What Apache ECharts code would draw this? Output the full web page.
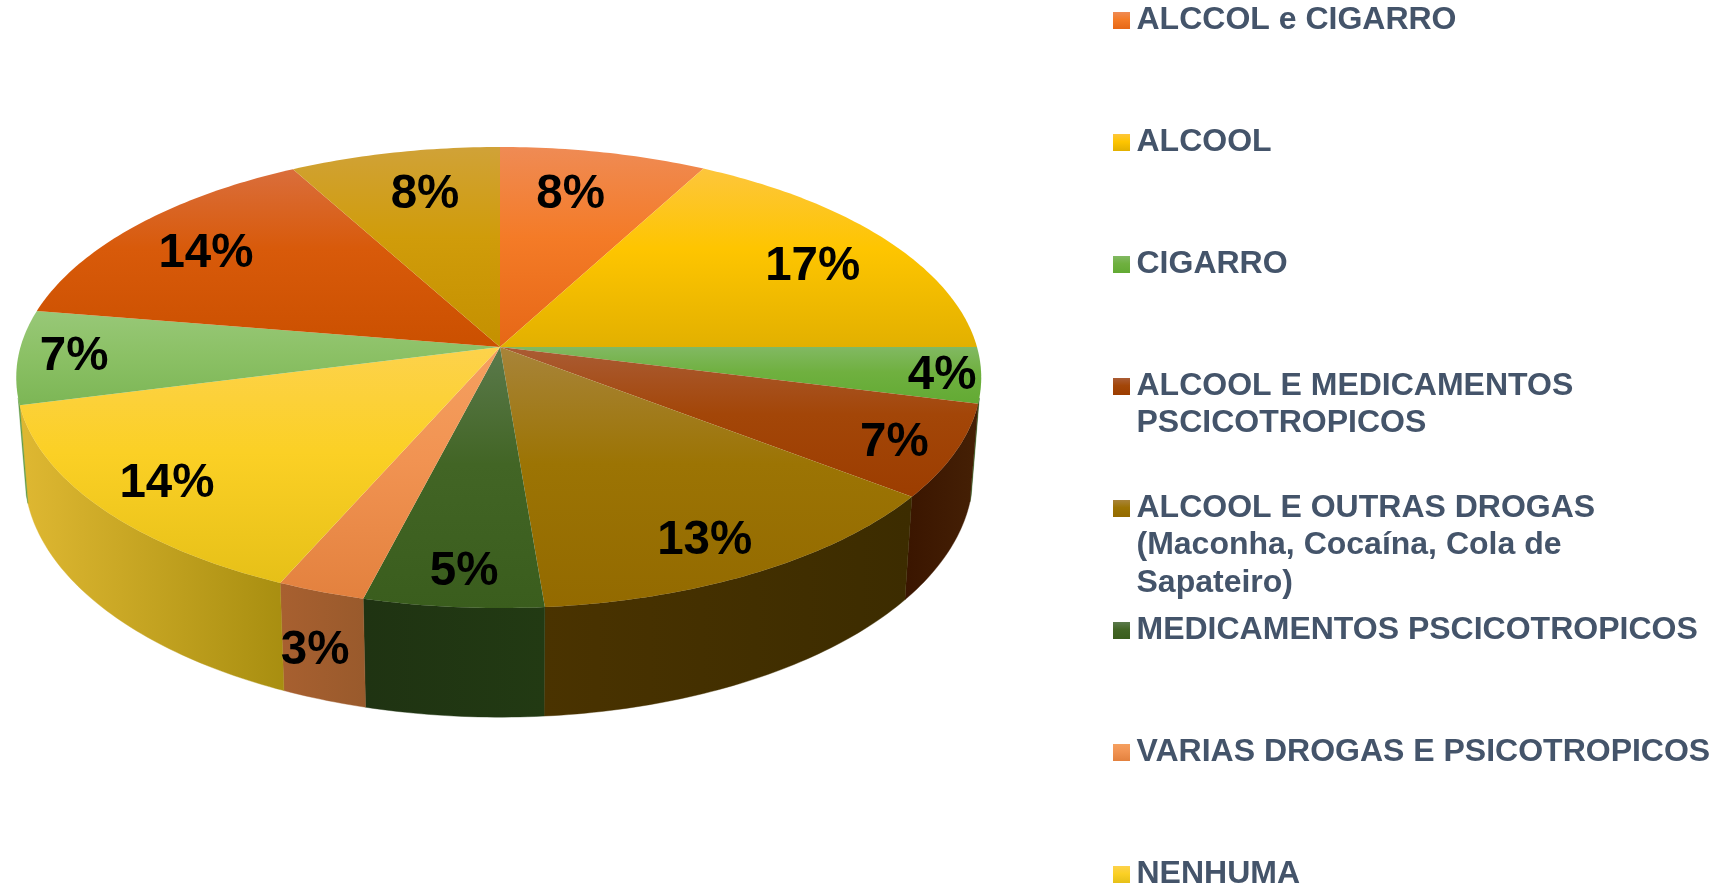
<!DOCTYPE html>
<html>
<head>
<meta charset="utf-8">
<style>html,body{margin:0;padding:0;background:#fff}#c{width:1721px;height:887px}</style>
<script src="https://cdn.jsdelivr.net/npm/echarts@6/dist/echarts.min.js"></script>
</head>
<body>
<div id="c"></div>
<script>
// Data (percent of the pie, clockwise from 12 o'clock)
const sliceValues = [7.9, 17.1, 3.9, 6.5, 13.3, 5.3, 2.6, 14.4, 6.6, 14.4, 8.0];
const legendNames = [
  'ALCCOL e CIGARRO',
  'ALCOOL',
  'CIGARRO',
  'ALCOOL E MEDICAMENTOS\nPSCICOTROPICOS',
  'ALCOOL E OUTRAS DROGAS\n(Maconha, Cocaína, Cola de\nSapateiro)',
  'MEDICAMENTOS PSCICOTROPICOS',
  'VARIAS DROGAS E PSICOTROPICOS',
  'NENHUMA'
];

// Styling
const topColors = [
  ['#ef8b55', '#f47b27', '#e66716'],
  ['#fdc63c', '#fec500', '#e2b000'],
  ['#82b963', '#6fb03f', '#62aa33'],
  ['#aa5c35', '#a34608', '#9c3d00'],
  ['#a8843a', '#9c7404', '#936a00'],
  ['#5b7a4c', '#426525', '#3a5d1d'],
  ['#f5a060', '#f19352', '#e3813e'],
  ['#fdd24c', '#fbd025', '#e6c018'],
  ['#98c878', '#8cc166', '#7cb655'],
  ['#da6e3c', '#d85a0a', '#cb5000'],
  ['#d0a238', '#d09c0a', '#c49000']
];
const wallColors = [
  null, null,
  ['#2f5a1a', '#2f5a1a'],
  ['#3a1500', '#452005'],
  ['#4a3300', '#3c2c00'],
  ['#1f3312', '#223a13'],
  ['#a86030', '#995a2c'],
  ['#dfb832', '#a88e10'],
  ['#5f9a45', '#5f9a45'],
  null, null
];
// Label placement: radial fraction of the disc, angle correction in degrees
const labelRadius = [0.77, 0.79, 0.92, 0.875, 0.85, 0.87, 1.177, 0.845, 0.885, 0.79, 0.77];
const labelAngleShift = [-2, 1.5, 0, 0.6, 1.6, -0.5, -2.9, 0, 0.5, -0.6, 1.5];

// Perspective disc geometry
const CX = 500, CY = 347, RX_LEFT = 479.5, RX_RIGHT = 477, RY = 226.5, K = 0.1324;
const WALL_FROM = 28.5, WALL_TO = 71.5;
const total = sliceValues.reduce((a, b) => a + b, 0);
const starts = [];
sliceValues.reduce((acc, v, i) => { starts[i] = acc; return acc + v; }, 0);

function project(pct, r) {
  const a = pct / total * Math.PI * 2;
  const u = Math.sin(a) * r, v = -Math.cos(a) * r;
  const s = 1 / (1 - K * v);
  return [CX + (u < 0 ? RX_LEFT : RX_RIGHT) * u * s, CY + RY * v * s];
}
function lower(p) {
  return [CX + (p[0] - CX) * 0.983, p[1] + 95 + 0.054 * (p[1] - CY)];
}
function arc(from, to) {
  const n = Math.max(2, Math.ceil((to - from) * 4));
  const pts = [];
  for (let i = 0; i <= n; i++) pts.push(project(from + (to - from) * i / n, 1));
  return pts;
}
function vGrad(c) {
  return new echarts.graphic.LinearGradient(0, 0, 0, 1, [
    { offset: 0, color: c[0] }, { offset: 0.45, color: c[1] }, { offset: 1, color: c[2] }
  ]);
}
function hGrad(c) {
  return new echarts.graphic.LinearGradient(0, 0, 1, 0, [
    { offset: 0, color: c[0] }, { offset: 1, color: c[1] }
  ]);
}

function renderWall(params, api) {
  const i = params.dataIndex;
  const from = Math.max(starts[i], WALL_FROM);
  const to = Math.min(starts[i] + api.value(0), WALL_TO);
  if (to <= from || !wallColors[i]) return { type: 'group', children: [] };
  const rim = arc(from, to);
  const points = rim.concat(rim.map(lower).reverse());
  const fill = hGrad(wallColors[i]);
  return { type: 'polygon', shape: { points }, style: { fill, stroke: fill, lineWidth: 0.4 } };
}
function renderTop(params, api) {
  const i = params.dataIndex;
  const points = [[CX, CY]].concat(arc(starts[i], starts[i] + api.value(0)));
  return { type: 'polygon', shape: { points }, style: { fill: vGrad(topColors[i]), stroke: 'rgba(0,0,0,0)' } };
}
function renderLabel(params, api) {
  const i = params.dataIndex, v = api.value(0);
  const pct = starts[i] + v / 2 + labelAngleShift[i] / 360 * total;
  const p = project(pct, labelRadius[i]);
  return {
    type: 'text', x: p[0], y: p[1] + 3,
    style: {
      text: Math.round(v) + '%', fill: '#000', textAlign: 'center', textVerticalAlign: 'middle',
      font: 'bold 47.5px "Liberation Sans", Arial, sans-serif'
    }
  };
}
const LEG_TOP = 18.7, LEG_STEP = 122, LEG_LINE = 37.4;
function renderLegend(params) {
  const i = params.dataIndex, c = LEG_TOP + LEG_STEP * i;
  return {
    type: 'group',
    children: [
      { type: 'rect', shape: { x: 1113, y: c - 6.7, width: 17, height: 17 }, style: { fill: vGrad(topColors[i]) } },
      {
        type: 'text', x: 1136.5, y: c - LEG_LINE / 2 + 1.5,
        style: {
          text: legendNames[i], fill: '#44546A', textAlign: 'left', textVerticalAlign: 'top',
          lineHeight: LEG_LINE, font: 'bold 32px "Liberation Sans", Arial, sans-serif'
        }
      }
    ]
  };
}

const chart = echarts.init(document.getElementById('c'), null, { renderer: 'canvas' });
chart.setOption({
  animation: false,
  backgroundColor: '#ffffff',
  series: [
    { type: 'custom', coordinateSystem: 'none', silent: true, data: sliceValues, renderItem: renderWall, z: 1 },
    { type: 'custom', coordinateSystem: 'none', silent: true, data: sliceValues, renderItem: renderTop, z: 2 },
    { type: 'custom', coordinateSystem: 'none', silent: true, data: sliceValues, renderItem: renderLabel, z: 3 },
    { type: 'custom', coordinateSystem: 'none', silent: true, data: legendNames.map((n, i) => ({ name: n, value: i })), renderItem: renderLegend, z: 3 }
  ]
});
</script>
</body>
</html>
